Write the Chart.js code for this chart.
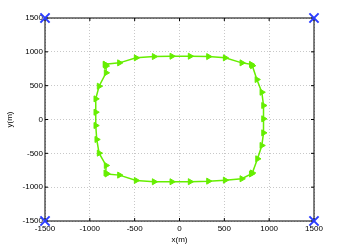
<!DOCTYPE html>
<html>
<head>
<meta charset="utf-8">
<script src="https://cdn.jsdelivr.net/npm/chart.js@4"></script>
<style>
  html, body { margin: 0; padding: 0; background: #fff; }
  #wrap { width: 346px; height: 249px; }
</style>
</head>
<body>
<div id="wrap"><canvas id="chart" width="346" height="249"></canvas></div>
<script>
// path of the moving node (x, y in metres)
const pathX = [-830, -670, -484, -283, -86, 118, 323, 509, 695, 800, 812,
  863, 918, 937, 937, 937, 918, 870, 812, 800,
  695, 509, 323, 118, -86, -283, -484, -670, -810, -822,
  -819, -897, -923, -934, -934, -934, -897, -819, -819, -830];
const pathY = [815, 837, 911, 930, 935, 935, 930, 911, 837, 815, 795,
  591, 403, 207, 10, -197, -384, -581, -790, -805,
  -876, -896, -911, -919, -920, -920, -901, -822, -805, -790,
  -679, -497, -295, -89, 108, 305, 492, 690, 790, 815];

// anchor positions at the corners
const cornerX = [-1500, 1500, -1500, 1500];
const cornerY = [1500, 1500, -1500, -1500];

// tick values on both axes
const tickVals = [-1500, -1000, -500, 0, 500, 1000, 1500];

const toPoints = (xs, ys) => xs.map((x, i) => ({ x: x, y: ys[i] }));

// black box round the plot area plus small inward tick marks
const boxPlugin = {
  id: "box",
  beforeDatasetsDraw(chart) {
    const { ctx, chartArea: a, scales } = chart;
    ctx.save();
    ctx.strokeStyle = "#000";
    ctx.lineWidth = 1;
    ctx.strokeRect(a.left, a.top, a.right - a.left, a.bottom - a.top);
    ctx.beginPath();
    tickVals.forEach((v) => {
      const x = scales.x.getPixelForValue(v);
      const y = scales.y.getPixelForValue(v);
      ctx.moveTo(x, a.bottom); ctx.lineTo(x, a.bottom - 3);
      ctx.moveTo(x, a.top); ctx.lineTo(x, a.top + 3);
      ctx.moveTo(a.left, y); ctx.lineTo(a.left + 3, y);
      ctx.moveTo(a.right, y); ctx.lineTo(a.right - 3, y);
    });
    ctx.stroke();
    ctx.restore();
  }
};

const font = { family: "'Liberation Sans', Arial, sans-serif", size: 8 };

new Chart(document.getElementById("chart"), {
  type: "scatter",
  data: {
    datasets: [
      {
        data: toPoints(pathX, pathY),
        showLine: true,
        borderColor: "#66ee00",
        backgroundColor: "#66ee00",
        borderWidth: 1.5,
        pointStyle: "triangle",
        rotation: 90,
        pointRadius: 3.5,
        pointBorderWidth: 1,
        tension: 0
      },
      {
        data: toPoints(cornerX, cornerY),
        showLine: false,
        pointStyle: "crossRot",
        pointRadius: 6.5,
        pointBorderWidth: 2,
        borderColor: "#2a3cff",
        backgroundColor: "#2a3cff",
        clip: false
      }
    ]
  },
  options: {
    responsive: false,
    animation: false,
    layout: { padding: { top: 18, right: 32, left: 0, bottom: 0 } },
    plugins: { legend: { display: false }, tooltip: { enabled: false } },
    scales: {
      x: {
        min: -1500,
        max: 1500,
        afterFit: (s) => { s.height = 28; },
        afterBuildTicks: (s) => { s.ticks = tickVals.map((v) => ({ value: v })); },
        grid: { color: "#c8c8c8", drawTicks: false, lineWidth: 1 },
        border: { display: false, dash: [1, 2] },
        ticks: { font: font, color: "#000", padding: 3, maxRotation: 0, callback: (v) => String(v) },
        title: { display: true, text: "x(m)", font: font, color: "#000", padding: { top: 0, bottom: 4 } }
      },
      y: {
        min: -1500,
        max: 1500,
        afterFit: (s) => { s.width = 45; },
        afterBuildTicks: (s) => { s.ticks = tickVals.map((v) => ({ value: v })); },
        grid: { color: "#c8c8c8", drawTicks: false, lineWidth: 1 },
        border: { display: false, dash: [1, 2] },
        ticks: { font: font, color: "#000", padding: 2, callback: (v) => String(v) },
        title: { display: true, text: "y(m)", font: font, color: "#000", padding: { top: 5, bottom: 0 } }
      }
    }
  },
  plugins: [boxPlugin]
});
</script>
</body>
</html>
